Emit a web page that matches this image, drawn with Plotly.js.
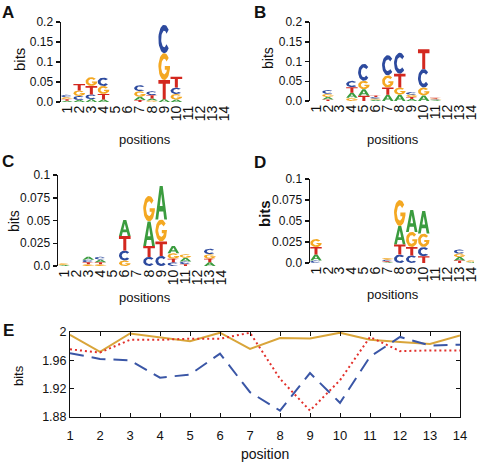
<!DOCTYPE html>
<html><head><meta charset="utf-8">
<script src="https://cdn.plot.ly/plotly-3.0.1.min.js"></script>
<style>body{margin:0;background:#fff}#chart{width:482px;height:462px}</style>
</head><body><div id="chart"></div>
<script>
// ---------------- DATA ----------------
const positions = [1,2,3,4,5,6,7,8,9,10,11,12,13,14];
const positionLabels = ['1','2','3','4','5','6','7','8','9','10','11','12','13','14'];

// Panel A (bits per letter at each position)
const logoA_A = [0.003,0.005,0.007,0.006,0,0,0.008,0.005,0.007,0.006,0,0,0,0];
const logoA_C = [0.006,0.010,0.012,0.021,0,0,0.015,0.010,0.071,0.016,0,0,0,0];
const logoA_G = [0.005,0.014,0.022,0.020,0,0,0.014,0.004,0.067,0.014,0,0,0,0];
const logoA_T = [0.004,0.016,0.021,0.014,0,0,0.005,0.008,0.048,0.027,0,0,0,0];
// Panel B
const logoB_A = [0,0.006,0,0.013,0.017,0.003,0.016,0.016,0.005,0.014,0.002,0,0,0];
const logoB_C = [0,0.010,0,0.016,0.043,0.004,0.051,0.053,0.007,0.047,0.002,0,0,0];
const logoB_G = [0,0.008,0,0.008,0.021,0.003,0.031,0.018,0.006,0.020,0.002,0,0,0];
const logoB_T = [0,0.004,0,0.014,0.013,0.004,0.018,0.035,0.005,0.050,0.002,0,0,0];
// Panel C
const logoC_A = [0.001,0,0.0032,0.003,0,0.0175,0,0.027,0.037,0.008,0.004,0,0.004,0];
const logoC_C = [0,0,0.003,0.0032,0,0.011,0,0.010,0.011,0.004,0.003,0,0.006,0];
const logoC_G = [0.002,0,0.002,0.002,0,0.006,0,0.028,0.024,0.006,0.004,0,0.005,0];
const logoC_T = [0,0,0.002,0.002,0,0.016,0,0.012,0.016,0.004,0.002,0,0.004,0];
// Panel D
const logoD_A = [0.007,0,0,0,0,0,0.001,0.022,0.026,0.027,0,0,0.004,0.001];
const logoD_C = [0.003,0,0,0,0,0,0.002,0.010,0.009,0.011,0,0,0.005,0];
const logoD_G = [0.0095,0,0,0,0,0,0.002,0.031,0.018,0.016,0,0,0.0042,0.002];
const logoD_T = [0.009,0,0,0,0,0,0.001,0.012,0.010,0.008,0,0,0.003,0];

// Panel E
const entropyGold = [1.996,1.972,1.998,1.993,1.987,1.999,1.976,1.9915,1.991,1.999,1.989,1.986,1.983,1.995];
const entropyRed  = [1.9755,1.971,1.989,1.989,1.9905,1.9905,1.999,1.934,1.889,1.932,1.993,1.973,1.974,1.974];
const entropyBlue = [1.970,1.962,1.960,1.9355,1.940,1.9695,1.915,1.889,1.942,1.900,1.965,1.993,1.981,1.982];

const ticksAB = [0,0.05,0.1,0.15,0.2];
const tickTextAB = ['0.0','0.05','0.1','0.15','0.2'];
const ticksCD = [0,0.025,0.05,0.075,0.1];
const tickTextCD = ['0.0','0.025','0.05','0.075','0.1'];
const ticksE = [1.88,1.92,1.96,2];
const tickTextE = ['1.88','1.92','1.96','2'];

// ---------------- GLYPHS ----------------
const W = 482, H = 462;
const FONT = 'Liberation Sans, Arial, Helvetica, sans-serif';
const letterColors = {A:'#3b9c3f', C:'#2d4a9e', G:'#f4a822', T:'#d3281f'};

function ell(rx, ry, a0, a1, n){
  const pts=[];
  for(let i=0;i<=n;i++){
    const a=(a0+(a1-a0)*i/n)*Math.PI/180;
    pts.push([0.5+rx*Math.cos(a), 0.5+ry*Math.sin(a)]);
  }
  return pts;
}
const GLYPHS = {
  A:{fill:[[[0,0],[0.37,1],[0.63,1],[1,0],[0.76,0],[0.68,0.24],[0.32,0.24],[0.24,0]]],
     holes:[[[0.38,0.4],[0.62,0.4],[0.5,0.76]]]},
  C:{fill:[ell(0.5,0.5,40,320,30).concat(ell(0.26,0.29,320,40,30))], holes:[]},
  G:{fill:[ell(0.5,0.5,40,360,30).concat([[1,0.52],[0.55,0.52],[0.55,0.38],[0.72,0.38]]).concat(ell(0.26,0.29,330,40,28))], holes:[]},
  T:{fill:[[[0,1],[1,1],[1,0.8],[0.63,0.8],[0.63,0],[0.37,0],[0.37,0.8],[0,0.8]]], holes:[]}
};

function logoTraces(data, xa, ya){
  const letters=['A','C','G','T'];
  const xs={},ys={}; letters.forEach(l=>{xs[l]=[];ys[l]=[];});
  const hx=[],hy=[];
  const wdt=0.96;
  positions.forEach((p,i)=>{
    const stack=letters.map(l=>({l,h:data[l][i]})).filter(o=>o.h>0).sort((a,b)=>a.h-b.h);
    let base=0;
    stack.forEach(o=>{
      const g=GLYPHS[o.l];
      g.fill.forEach(poly=>{
        poly.forEach(([u,v])=>{xs[o.l].push(p-wdt/2+u*wdt); ys[o.l].push(base+v*o.h);});
        xs[o.l].push(null); ys[o.l].push(null);
      });
      g.holes.forEach(poly=>{
        poly.forEach(([u,v])=>{hx.push(p-wdt/2+u*wdt); hy.push(base+v*o.h);});
        hx.push(null); hy.push(null);
      });
      base+=o.h;
    });
  });
  const tr=letters.map(l=>({type:'scatter',mode:'lines',x:xs[l],y:ys[l],fill:'toself',
    fillcolor:letterColors[l],line:{width:0,color:letterColors[l]},hoverinfo:'skip',showlegend:false,
    xaxis:xa,yaxis:ya,name:l}));
  tr.push({type:'scatter',mode:'lines',x:hx,y:hy,fill:'toself',fillcolor:'#ffffff',
    line:{width:0,color:'#ffffff'},hoverinfo:'skip',showlegend:false,xaxis:xa,yaxis:ya});
  return tr;
}

let traces=[];
traces=traces.concat(logoTraces({A:logoA_A,C:logoA_C,G:logoA_G,T:logoA_T},'x','y'));
traces=traces.concat(logoTraces({A:logoB_A,C:logoB_C,G:logoB_G,T:logoB_T},'x2','y2'));
traces=traces.concat(logoTraces({A:logoC_A,C:logoC_C,G:logoC_G,T:logoC_T},'x3','y3'));
traces=traces.concat(logoTraces({A:logoD_A,C:logoD_C,G:logoD_G,T:logoD_T},'x4','y4'));

traces.push({type:'scatter',mode:'lines',x:positions,y:entropyGold,line:{color:'#d9a53a',width:2},xaxis:'x5',yaxis:'y5',showlegend:false,hoverinfo:'skip'});
traces.push({type:'scatter',mode:'lines',x:positions,y:entropyRed,line:{color:'#e2302b',width:2,dash:'2px,3px'},xaxis:'x5',yaxis:'y5',showlegend:false,hoverinfo:'skip'});
traces.push({type:'scatter',mode:'lines',x:positions,y:entropyBlue,line:{color:'#3a56a6',width:2,dash:'14px,8px'},xaxis:'x5',yaxis:'y5',showlegend:false,hoverinfo:'skip'});

// ---------------- LAYOUT ----------------
const px = v => v/W;
const py = v => 1 - v/H;

function logoX(x0,x1,anchor,rmax){
  return {domain:[px(x0),px(x1)],range:[0.5,rmax||14.5],anchor:anchor,tickmode:'array',
    tickvals:positions,ticktext:positionLabels,tickangle:-90,showline:false,ticks:'',
    ticklabeloverflow:'allow',
    zeroline:false,showgrid:false,tickfont:{family:FONT,size:14,color:'#111'},fixedrange:true};
}
function logoY(y0,y1,anchor,rng,tv,tt){
  return {domain:[py(y1),py(y0)],range:rng,anchor:anchor,tickmode:'array',tickvals:tv,ticktext:tt,
    showline:true,linecolor:'#111',linewidth:1.5,ticks:'outside',ticklen:4,tickwidth:1.5,tickcolor:'#111',
    zeroline:false,showgrid:false,tickfont:{family:FONT,size:12,color:'#111'},fixedrange:true};
}

function ann(text,x,y,size,opts){
  return Object.assign({text:text,x:px(x),y:py(y),xref:'paper',yref:'paper',showarrow:false,
    xanchor:'center',yanchor:'middle',font:{family:FONT,size:size,color:'#111'}},opts||{});
}

const layout={
  width:W,height:H,margin:{l:0,r:0,t:0,b:0},paper_bgcolor:'#fff',plot_bgcolor:'rgba(0,0,0,0)',
  showlegend:false,
  xaxis: logoX(61,231,'y'),
  yaxis: logoY(22,102,'x',[0,0.2],ticksAB,tickTextAB),
  xaxis2: logoX(310,474,'x2'==='x2'?'y2':'y2',14.2),
  yaxis2: logoY(22,101,'x2',[0,0.2],ticksAB,tickTextAB),
  xaxis3: logoX(58,228,'y3'),
  yaxis3: logoY(175,266,'x3',[0,0.1],ticksCD,tickTextCD),
  xaxis4: logoX(310,474,'y4',14.2),
  yaxis4: logoY(179,263,'x4',[0,0.1],ticksCD,tickTextCD),
  xaxis5:{domain:[px(70),px(460)],range:[1,14],anchor:'y5',tickmode:'array',tickvals:positions,ticktext:positionLabels,
    showline:true,mirror:'ticks',linecolor:'#111',linewidth:1,ticks:'inside',ticklen:4,tickcolor:'#111',
    ticklabeloverflow:'allow',
    zeroline:false,showgrid:false,tickfont:{family:FONT,size:13,color:'#111'},ticklabelstandoff:6,fixedrange:true},
  yaxis5:{domain:[py(417),py(332)],range:[1.88,2.0],anchor:'x5',tickmode:'array',tickvals:ticksE,ticktext:tickTextE,
    showline:true,mirror:'ticks',linecolor:'#111',linewidth:1,ticks:'inside',ticklen:4,tickcolor:'#111',
    zeroline:false,showgrid:false,tickfont:{family:FONT,size:12.5,color:'#111'},fixedrange:true},
  annotations:[
    ann('<b>A</b>',8,12,17), ann('<b>B</b>',260,12,17), ann('<b>C</b>',8,161,17),
    ann('<b>D</b>',260,162,17), ann('<b>E</b>',8,330,17),
    ann('bits',19,60,15,{textangle:-90}), ann('bits',268,58,14,{textangle:-90}),
    ann('bits',14,221,14,{textangle:-90}), ann('<b>bits</b>',264,214,15,{textangle:-90}),
    ann('bits',18,376,13,{textangle:-90}),
    ann('positions',145,140,13), ann('positions',393,140,13),
    ann('positions',145,297,13), ann('positions',393,294,13),
    ann('position',265,454,14)
  ]
};

Plotly.newPlot('chart',traces,layout,{displayModeBar:false,staticPlot:true});
</script></body></html>
